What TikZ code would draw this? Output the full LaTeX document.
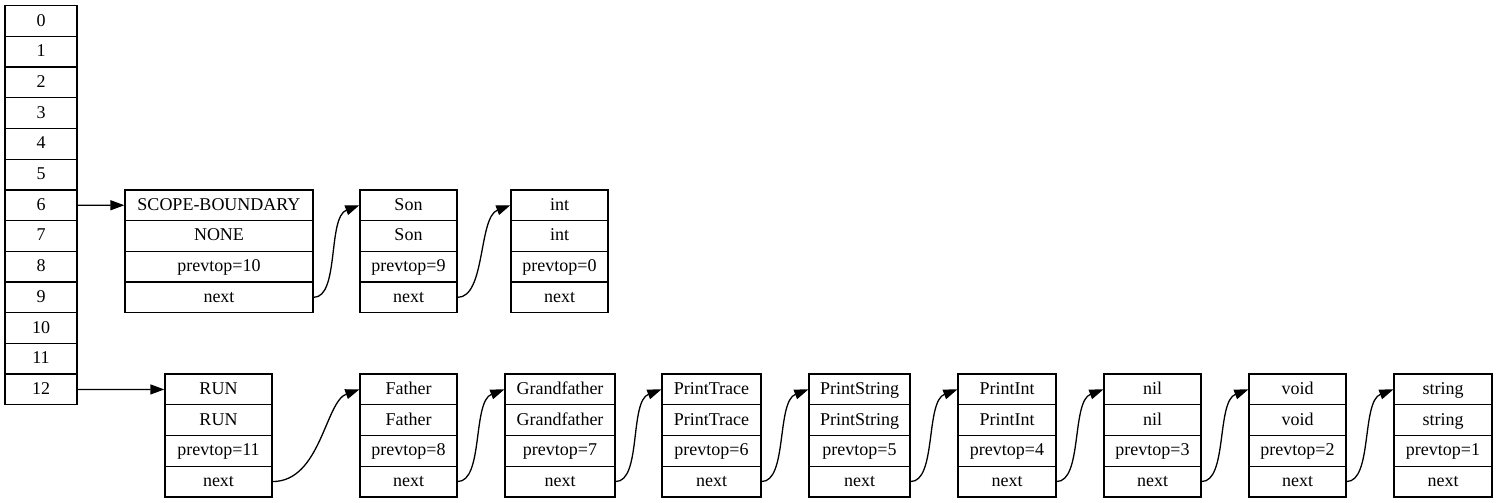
\documentclass[tikz,border=0pt]{standalone}
\usepackage{fontspec}
\setmainfont{Liberation Serif}
\usetikzlibrary{arrows.meta}
\tikzset{
  fld/.style={draw, line width=1.3pt, inner sep=0pt, minimum height=30.7pt,
    text height=13.5pt, text depth=3.5pt, font=\fontsize{18}{21}\selectfont},
  arr/.style={line width=1.3pt, -{Triangle[length=14pt,width=10pt]}}
}
\newcommand\recbox[8]{%
  \node[fld, minimum width=#3] (#1-1) at (#2, {#4+15.35}) {#5};
  \node[fld, minimum width=#3] (#1-2) at (#2, {#4+46.05}) {#6};
  \node[fld, minimum width=#3] (#1-3) at (#2, {#4+76.75}) {#7};
  \node[fld, minimum width=#3] (#1-4) at (#2, {#4+107.45}) {#8};
}
\begin{document}
\begin{tikzpicture}[x=1pt,y=-1pt]
\useasboundingbox (0,0) rectangle (1497,503);
\foreach \i in {0,...,12} {
  \node[fld, minimum width=72pt] (t\i) at (41, {5.7+30.7*\i+15.35}) {\i};
}
% top chain
\recbox{sb}{219}{188}{189.9}{SCOPE-BOUNDARY}{NONE}{prevtop=10}{next}
\recbox{son}{408.5}{97}{189.9}{Son}{Son}{prevtop=9}{next}
\recbox{int}{559.5}{97}{189.9}{int}{int}{prevtop=0}{next}
% bottom chain
\recbox{run}{218.5}{107}{374.1}{RUN}{RUN}{prevtop=11}{next}
\recbox{fa}{408.5}{97}{374.1}{Father}{Father}{prevtop=8}{next}
\recbox{gf}{560}{110}{374.1}{Grandfather}{Grandfather}{prevtop=7}{next}
\recbox{pt}{711.5}{99}{374.1}{PrintTrace}{PrintTrace}{prevtop=6}{next}
\recbox{ps}{859.5}{101}{374.1}{PrintString}{PrintString}{prevtop=5}{next}
\recbox{pi}{1007}{98}{374.1}{PrintInt}{PrintInt}{prevtop=4}{next}
\recbox{nil}{1152.5}{97}{374.1}{nil}{nil}{prevtop=3}{next}
\recbox{void}{1297.5}{97}{374.1}{void}{void}{prevtop=2}{next}
\recbox{str}{1443}{98}{374.1}{string}{string}{prevtop=1}{next}
% arrows
\draw[arr] (t6.east) -- (sb-1.west);
\draw[arr] (t12.east) -- (run-1.west);
\draw[arr] (sb-4.east) .. controls +(26,0) and +(-32,12) .. (son-1.west);
\draw[arr] (son-4.east) .. controls +(28,0) and +(-32,12) .. (int-1.west);
\draw[arr] (run-4.east) .. controls +(48,0) and +(-34,12) .. (fa-1.west);
\foreach \a/\b in {fa/gf, gf/pt, pt/ps, ps/pi, pi/nil, nil/void, void/str} {
  \draw[arr] (\a-4.east) .. controls +(26,0) and +(-32,12) .. (\b-1.west);
}
\end{tikzpicture}
\end{document}
